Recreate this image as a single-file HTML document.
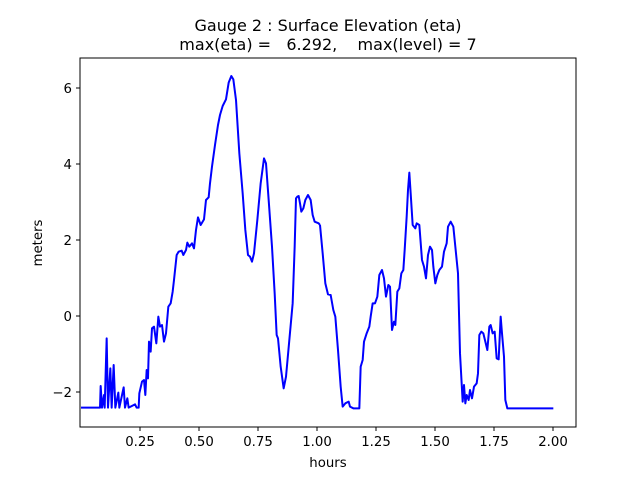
<!DOCTYPE html>
<html><head><style>body{margin:0;background:#fff}</style></head><body>
<svg width="640" height="480" xmlns="http://www.w3.org/2000/svg" font-family="DejaVu Sans, Liberation Sans, sans-serif">
<rect width="640" height="480" fill="#fff"/>
<text x="328" y="31" font-size="16" text-anchor="middle">Gauge 2 : Surface Elevation (eta)</text>
<text x="328" y="50" font-size="16" text-anchor="middle" xml:space="preserve">max(eta) =   6.292,    max(level) = 7</text>
<g fill="none" stroke="#0000ff" stroke-width="2" stroke-linejoin="round">
<polyline vector-effect="non-scaling-stroke" transform="translate(80,60) scale(0.33333)" points="3,1043 60,1043 62,978 66,1043 72,1005 74,1043 80,835 84,1043 91,925 95,1043 101,915 106,1043 115,998 118,1043 131,982 135,1043 142,1015 146,1043 165,1033 170,1043 176,1043 178,1000 186,965 192,960 196,1005 200,930 204,955 207,845 212,875 216,805 222,800 229,850 235,770 240,800 246,795 252,845 258,820 265,740 272,730 278,695 282,660 290,585 296,575 305,572 310,585 318,570 322,548 328,560 336,550 342,565 348,510 354,472 362,495 372,478 378,420 386,412 390,370 396,320 405,255 414,195 420,165 428,138 438,118 446,68 454,48 460,58 468,120 478,280 488,400 496,510 504,585 510,590 516,605 522,580 532,480 542,370 552,295 558,310 566,420 576,560 584,700 590,825 594,835 602,920 611,985 618,950 628,840 638,730 644,560 648,415 652,410 656,408 660,430 664,455 670,445 676,420 684,405 692,420 698,465 704,485 716,490 720,495"/>
<polyline vector-effect="non-scaling-stroke" transform="translate(320,160) scale(0.33333)" points="0,195 8,280 16,370 24,403 32,405 40,450 46,470 54,570 62,680 68,740 76,730 86,725 90,740 100,745 118,745 122,620 128,600 132,545 140,520 148,500 152,470 158,430 165,430 172,410 178,345 186,330 192,355 198,410 205,375 210,380 216,510 222,485 226,495 232,395 238,385 244,340 250,330 254,270 260,170 264,90 268,38 272,100 278,195 286,205 290,190 298,195 306,300 312,320 318,355 324,285 330,260 336,270 340,320 346,370 352,345 358,330 366,320 372,275 380,250 384,200 392,185 400,200 406,260 414,340 420,580 428,725 432,675 436,730 440,705 446,720 450,690 456,715 462,680 470,670 474,640 478,525 484,515 490,520 496,545 502,570 508,500 512,495 518,520 524,515 530,595 536,598 542,470 546,520 552,590 556,720 562,745 700,745"/>
</g>
<rect x="80" y="58" width="496" height="369" fill="none" stroke="#000" stroke-width="1"/>
<g stroke="#000" stroke-width="1">
<line x1="140" y1="427" x2="140" y2="431"/><line x1="199" y1="427" x2="199" y2="431"/><line x1="258" y1="427" x2="258" y2="431"/><line x1="317" y1="427" x2="317" y2="431"/><line x1="376" y1="427" x2="376" y2="431"/><line x1="435" y1="427" x2="435" y2="431"/><line x1="494" y1="427" x2="494" y2="431"/><line x1="553" y1="427" x2="553" y2="431"/>
<line x1="76" y1="88" x2="80" y2="88"/><line x1="76" y1="164" x2="80" y2="164"/><line x1="76" y1="240" x2="80" y2="240"/><line x1="76" y1="316" x2="80" y2="316"/><line x1="76" y1="392" x2="80" y2="392"/>
</g>
<g font-size="13.3" text-anchor="middle">
<text x="140" y="446">0.25</text><text x="199" y="446">0.50</text><text x="258" y="446">0.75</text><text x="317" y="446">1.00</text><text x="376" y="446">1.25</text><text x="435" y="446">1.50</text><text x="494" y="446">1.75</text><text x="553" y="446">2.00</text>
<text x="328" y="467">hours</text>
</g>
<g font-size="13.3" text-anchor="end">
<text x="72" y="93">6</text><text x="72" y="169">4</text><text x="72" y="245">2</text><text x="72" y="321">0</text><text x="72" y="397">−2</text>
</g>
<text transform="translate(42,243) rotate(-90)" font-size="13.3" text-anchor="middle">meters</text>
</svg>
</body></html>
